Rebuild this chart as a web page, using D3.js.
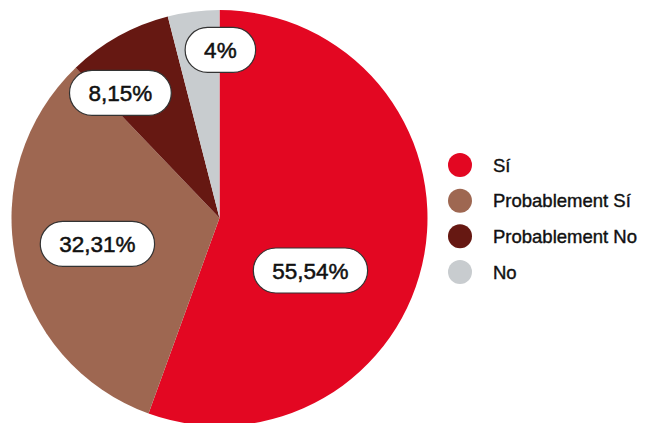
<!DOCTYPE html>
<html>
<head>
<meta charset="utf-8">
<script src="https://cdn.jsdelivr.net/npm/d3@7"></script>
<style>
  body { margin: 0; background: #fff; }
  svg { display: block; font-family: "Liberation Sans", Arial, sans-serif; }
</style>
</head>
<body>
<div id="chart"></div>
<script>
// data
const categories = ["Sí", "Probablement Sí", "Probablement No", "No"];
const values = [55.54, 32.31, 8.15, 4];
const valueLabels = ["55,54%", "32,31%", "8,15%", "4%"];
const colors = ["#e30722", "#9e6751", "#661812", "#c8cccf"];

// where each label bubble sits: angle (deg, clockwise from top) and share of radius
const labelSpots = [
  { angle: 120, k: 0.505 },
  { angle: 258, k: 0.6 },
  { angle: 321.6, k: 0.767 },
  { angle: 0.3, k: 0.808 }
];

let width = 645,
  height = 423;

let svg = d3
  .select("#chart")
  .append("svg")
  .attr("width", width)
  .attr("height", height);

const cx = 219.5,
  cy = 218,
  radius = 208;

const pie = d3.pie().sort(null).value((d) => d);
const arcs = pie(values);
const arc = d3.arc().innerRadius(0).outerRadius(radius);

const g = svg.append("g").attr("transform", `translate(${cx},${cy})`);

g.selectAll("path")
  .data(arcs)
  .enter()
  .append("path")
  .attr("d", arc)
  .attr("fill", (d, i) => colors[i]);

// label bubbles
const labels = g
  .selectAll(".bubble")
  .data(arcs)
  .enter()
  .append("g")
  .attr("class", "bubble")
  .attr("transform", (d, i) => {
    const a = (labelSpots[i].angle * Math.PI) / 180;
    const r = labelSpots[i].k * radius;
    return `translate(${r * Math.sin(a)},${-r * Math.cos(a)})`;
  });

labels.each(function (d, i) {
  const node = d3.select(this);
  const txt = node
    .append("text")
    .attr("text-anchor", "middle")
    .attr("dy", "0.36em")
    .attr("font-size", 22.5)
    .attr("fill", "#111")
    .attr("stroke", "#111")
    .attr("stroke-width", 0.5)
    .text(valueLabels[i]);
  const w = txt.node().getComputedTextLength() + 38;
  const h = 45;
  node
    .insert("rect", "text")
    .attr("x", -w / 2)
    .attr("y", -h / 2)
    .attr("width", w)
    .attr("height", h)
    .attr("rx", h / 2)
    .attr("ry", h / 2)
    .attr("fill", "#fff")
    .attr("stroke", "#333")
    .attr("stroke-width", 1.2);
});

// legend
const legendY = d3.scalePoint().domain(categories).range([165, 272]);

const legendItem = svg
  .append("g")
  .selectAll(".legend-item")
  .data(categories)
  .enter()
  .append("g")
  .attr("class", "legend-item")
  .attr("transform", (d) => `translate(460,${legendY(d)})`);

legendItem
  .append("circle")
  .attr("r", 12)
  .attr("fill", (d, i) => colors[i]);

legendItem
  .append("text")
  .attr("x", 33)
  .attr("dy", "0.36em")
  .attr("font-size", 18.5)
  .attr("fill", "#111")
  .attr("stroke", "#111")
  .attr("stroke-width", 0.4)
  .text((d) => d);
</script>
</body>
</html>
